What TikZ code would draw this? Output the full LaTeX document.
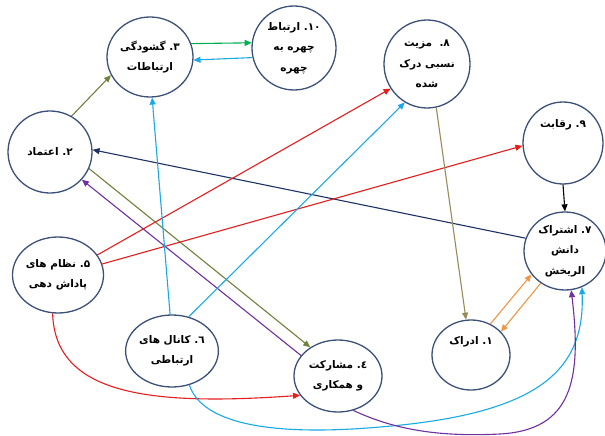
\documentclass[tikz,border=0pt]{standalone}
\usepackage{fontspec}
\TeXXeTstate=1
\newfontfamily\fa[Script=Arabic]{DejaVu Sans}
\usetikzlibrary{arrows.meta,shapes.geometric}
\newcommand\rl[1]{\beginR #1\endR}
\newcommand\num[1]{\mbox{#1}\mbox{.}}
\definecolor{nodeborder}{RGB}{60,80,120}
\definecolor{cgreen}{RGB}{0,176,80}
\definecolor{ccyan}{RGB}{25,170,230}
\definecolor{colive}{RGB}{110,130,60}
\definecolor{cbrown}{RGB}{150,140,90}
\definecolor{cnavy}{RGB}{30,50,100}
\definecolor{cred}{RGB}{230,30,30}
\definecolor{cpurple}{RGB}{112,48,160}
\definecolor{corange}{RGB}{240,150,70}
\begin{document}
\begin{tikzpicture}[x=1pt,y=-1pt,
  concept/.style={ellipse, draw=nodeborder, line width=1.3pt, fill=white,
    inner sep=0pt, align=center, font=\fa\bfseries\fontsize{10.5}{20.5}\selectfont},
  link/.style={line width=1.1pt, -{Triangle[length=7pt,width=6pt]}}]
\useasboundingbox (0,0) rectangle (605,436);
\fill[white] (0,0) rectangle (605,436);

\node[concept, minimum width=86pt, minimum height=80pt] (n3) at (150,57)
  {\rl{\num{۳}\ گشودگی}\\\rl{ارتباطات}};
\node[concept, minimum width=84pt, minimum height=84pt] (n10) at (294,48)
  {\rl{\num{۱۰}\ ارتباط}\\\rl{چهره به}\\\rl{چهره}};
\node[concept, minimum width=86pt, minimum height=88pt] (n8) at (427,64)
  {\rl{\num{۸}\ \ مزیت}\\\rl{نسبی درک}\\\rl{شده}};
\node[concept, minimum width=84pt, minimum height=82pt] (n2) at (50,152)
  {\rl{\num{۲}\ اعتماد}};
\node[concept, minimum width=80pt, minimum height=82pt] (n9) at (563,143)
  {\raisebox{16pt}[0pt][0pt]{\rl{\num{۹}\ رقابت}}};
\node[concept, minimum width=82pt, minimum height=78pt] (n7) at (565,251)
  {\rl{\num{۷}\ اشتراک}\\\rl{دانش}\\\rl{الریخش}};
\node[concept, minimum width=82pt, minimum height=76pt] (n5) at (58,275)
  {\rl{\num{۵}\ نظام های}\\\rl{پاداش دهی}};
\node[concept, minimum width=86pt, minimum height=72pt] (n6) at (172,351)
  {\rl{\num{٦}\ کانال های}\\\rl{ارتباطی}};
\node[concept, minimum width=88pt, minimum height=72pt] (n4) at (338,376)
  {\rl{\num{٤}\ مشارکت}\\\rl{و همکاری}};
\node[concept, minimum width=78pt, minimum height=70pt] (n1) at (471,355)
  {\raisebox{11pt}[0pt][0pt]{\rl{\num{۱}\ ادراک}}};

% top links
\draw[link, cgreen] (n3.18) -- (n10.173);
\draw[link, ccyan] (n10.193) -- (n3.356);
\draw[link, colive] (n2.59) -- (n3.205);
% to/from trust
\draw[link, cnavy] (n7.162) -- (n2.3);
\draw[link, colive] (n2.337) -- (n4.134);
\draw[link, cpurple] (n4.151) -- (n2.319);
% reward systems
\draw[link, cred] (n5.27) -- (n8.214);
\draw[link, cred] (n5.14) -- (n9.184);
\draw[link, cred] (n5.262) .. controls (55,395) and (150,406) .. (n4.207);
% communication channels
\draw[link, ccyan] (n6.93) -- (n3.273);
\draw[link, ccyan] (n6.64) -- (n8.240);
\draw[link, ccyan] (n6.297) .. controls (205,432) and (300,434) .. (380,427)
   .. controls (540,414) and (585,370) .. (n7.295);
% participation to knowledge sharing
\draw[link, cpurple] (n4.294) .. controls (395,430) and (440,437) .. (500,434)
   .. controls (572,430) and (582,380) .. (n7.279);
% right side
\draw[link, cbrown] (n8.282) -- (n1.98);
\draw[link, black] (n9.south) -- (n7.north);
\draw[link, corange] (n1.58) -- (n7.215);
\draw[link, corange] (n7.233) -- (n1.38);
\end{tikzpicture}
\end{document}
